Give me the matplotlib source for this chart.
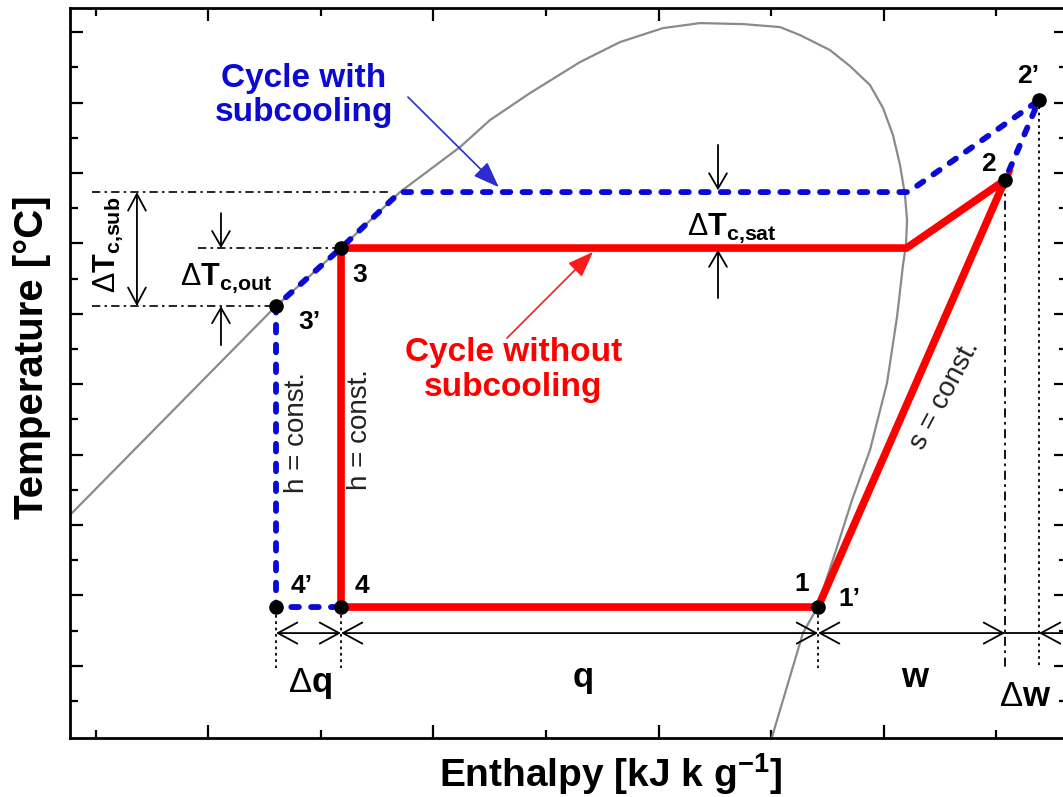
import numpy as np
import matplotlib
matplotlib.use("Agg")
import matplotlib.pyplot as plt

plt.rcParams["font.family"] = ["Liberation Sans", "DejaVu Sans"]
plt.rcParams["mathtext.fontset"] = "custom"
plt.rcParams["mathtext.rm"] = "Liberation Sans"
plt.rcParams["mathtext.bf"] = "Liberation Sans:bold"
plt.rcParams["mathtext.it"] = "Liberation Sans:italic"

# ---- saturation dome (enthalpy, temperature; arbitrary units) ----
dome_h = [-0.231, 1.600, 2.178, 2.702, 3.236, 3.502, 3.858, 4.302, 4.658, 5.040,
          5.369, 5.751, 6.080, 6.258, 6.524, 6.702, 6.880, 6.996, 7.084, 7.147,
          7.191, 7.209, 7.200, 7.173, 7.120, 7.031, 6.880, 6.720, 6.587, 6.409,
          6.284, 6.009]
dome_T = [5.284, 11.222, 12.869, 14.460, 15.739, 16.506, 17.273, 18.153, 18.722, 19.119,
          19.261, 19.233, 19.148, 18.920, 18.494, 18.040, 17.500, 16.847, 16.080, 15.227,
          14.375, 13.665, 12.955, 12.386, 10.909, 9.034, 7.131, 5.710, 4.375, 2.642,
          1.932, -1.023]

# ---- cycle state points ----
T_evap = 2.67       # evaporation temperature
T_cond = 12.87      # condensation temperature, no subcooling
T_cond_sub = 14.46  # condensation temperature, with subcooling
T_3p = 11.22        # condenser outlet temperature, with subcooling
T_2 = 14.80
T_2p = 17.07

h_1 = 6.418
h_2 = 8.080
h_2p = 8.382
h_3 = 2.178
h_3p = 1.600
h_knee_red = 7.205
h_knee_blue = 7.22
h_knee_sub = 2.702

# cycle without subcooling: 4 -> 3 -> condenser -> 2 -> 1 -> 4
red_h = [h_3, h_3, h_knee_red, h_2, h_1, h_3]
red_T = [T_evap, T_cond, T_cond, T_2, T_evap, T_evap]

# cycle with subcooling: 1' -> 2 -> 2' -> condenser -> 3 -> 3' -> 4' -> 1'
blue_h = [h_1, h_2, h_2p, h_knee_blue, h_knee_sub, h_3, h_3p, h_3p, h_1]
blue_T = [T_evap, T_2, T_2p, T_cond_sub, T_cond_sub, T_cond, T_3p, T_evap, T_evap]

point_h = [h_3, h_3p, h_3p, h_3, h_1, h_2, h_2p]
point_T = [T_cond, T_3p, T_evap, T_evap, T_evap, T_2, T_2p]

fig = plt.figure(figsize=(10.63, 7.97), dpi=100)
ax = fig.add_axes([70 / 1063, 59 / 797, 997 / 1063, 730 / 797])

# axes frame and ticks (ticks first, limits afterwards)
for sp in ax.spines.values():
    sp.set_linewidth(2.0)
ax.set_xticks(np.arange(1, 9, 2))
ax.set_xticks(np.arange(0, 9, 2), minor=True)
ax.set_yticks(np.arange(1, 20, 2))
ax.set_yticks(np.arange(0, 20, 2), minor=True)
ax.set_xlim(-0.231, 8.631)
ax.set_ylim(-1.051, 19.69)
ax.tick_params(which="both", direction="in", top=True, right=True,
               labelbottom=False, labelleft=False, width=1.6)
ax.tick_params(which="major", length=9.5)
ax.tick_params(which="minor", length=6)

# dome
ax.plot(dome_h, dome_T, color="#8a8a8a", lw=1.6, zorder=2)

# cycles
ax.plot(blue_h, blue_T, color="#0a0ad8", lw=4.2, linestyle=(0, (1.3, 2.1)),
        dash_capstyle="round", solid_joinstyle="round", zorder=3)
ax.plot(red_h, red_T, color="#ff0000", lw=5.5, solid_joinstyle="miter",
        solid_capstyle="butt", zorder=4)
ax.plot(point_h, point_T, "o", color="black", ms=9.5, zorder=6)

dashdot = (0, (5, 2.5, 1.5, 2.5))
dotted = (0, (1.5, 2.0))

# helper lines
ax.plot([-0.036, 2.62], [T_cond_sub, T_cond_sub], color="black", lw=1.2, ls=dashdot, zorder=2)
ax.plot([0.907, h_3], [T_cond, T_cond], color="black", lw=1.2, ls=dashdot, zorder=2)
ax.plot([-0.036, h_3p], [T_3p, T_3p], color="black", lw=1.2, ls=dashdot, zorder=2)

y_arr = 1.93
for hx in (h_3p, h_3, h_1):
    ax.plot([hx, hx], [2.44, 0.94], color="black", lw=1.3, ls=dotted, zorder=2)
ax.plot([h_2, h_2], [T_2, 0.91], color="black", lw=1.3, ls=dashdot, zorder=2)
ax.plot([h_2p, h_2p], [T_2p, 0.94], color="black", lw=1.3, ls=dotted, zorder=2)


def arrow(x0, y0, x1, y1, style, lw=1.3, color="black", ms=20):
    ax.annotate("", xy=(x1, y1), xytext=(x0, y0),
                arrowprops=dict(arrowstyle=style, lw=lw, color=color,
                                shrinkA=0, shrinkB=0, mutation_scale=ms),
                annotation_clip=False, zorder=5)


hstyle = "<->,head_length=0.7,head_width=0.38"
arrow(h_3p, y_arr, h_3, y_arr, hstyle)
arrow(h_3, y_arr, h_1, y_arr, hstyle)
arrow(h_1, y_arr, h_2, y_arr, hstyle)
ax.plot([h_2, h_2p], [y_arr, y_arr], color="black", lw=1.3, zorder=5)
arrow(8.68, y_arr, h_2p, y_arr, "->,head_length=0.7,head_width=0.38")

# temperature difference markers
vstyle = "<->,head_length=0.6,head_width=0.32"
arrow(0.364, T_cond_sub, 0.364, T_3p, vstyle)
one = "->,head_length=0.55,head_width=0.32"
arrow(1.111, 13.86, 1.111, T_cond, one)
arrow(1.111, 10.11, 1.111, T_3p, one)
arrow(5.529, 15.80, 5.529, T_cond_sub + 0.05, one)
arrow(5.529, 11.45, 5.529, T_cond - 0.05, one)

# callouts
ax.annotate("", xy=(3.58, 14.60), xytext=(2.773, 17.16),
            arrowprops=dict(arrowstyle="-|>,head_length=0.8,head_width=0.3",
                            lw=1.2, color="#2b2bd0", shrinkA=0, shrinkB=0,
                            mutation_scale=20), zorder=5)
ax.annotate("", xy=(4.418, 12.76), xytext=(3.653, 10.31),
            arrowprops=dict(arrowstyle="-|>,head_length=0.8,head_width=0.3",
                            lw=1.2, color="#ff1a1a", shrinkA=0, shrinkB=0,
                            mutation_scale=20), zorder=5)

ax.text(1.85, 17.2, "Cycle with\nsubcooling", color="#0a0ad0", fontsize=24,
        fontweight="bold", ha="center", va="center", linespacing=1.15)
ax.text(3.71, 9.4, "Cycle without\nsubcooling", color="#ff0000", fontsize=24,
        fontweight="bold", ha="center", va="center", linespacing=1.15)

# state labels
lbl = dict(fontsize=19, fontweight="bold", ha="center", va="center", zorder=7)
ax.text(2.347, 12.10, "3", **lbl)
ax.text(1.893, 10.77, "3\u2019", **lbl)
ax.text(1.831, 3.27, "4\u2019", **lbl)
ax.text(2.364, 3.27, "4", **lbl)
ax.text(6.276, 3.32, "1", **lbl)
ax.text(6.693, 2.90, "1\u2019", **lbl)
ax.text(7.929, 15.26, "2", **lbl)
ax.text(8.284, 17.76, "2\u2019", **lbl)

# difference labels
ax.text(0.107, 12.95, r"$\Delta\mathbf{T}_{\mathbf{c{,}sub}}$", fontsize=22,
        rotation=90, ha="center", va="center")
ax.text(1.156, 12.02, r"$\Delta\mathbf{T}_{\mathbf{c{,}out}}$", fontsize=22,
        ha="center", va="center")
ax.text(5.653, 13.44, r"$\Delta\mathbf{T}_{\mathbf{c{,}sat}}$", fontsize=22,
        ha="center", va="center")

ax.text(1.902, 0.256, r"$\Delta\mathbf{q}$", fontsize=25, ha="center", va="baseline")
ax.text(4.329, 0.398, "q", fontsize=25, fontweight="bold", ha="center", va="baseline")
ax.text(7.28, 0.398, "w", fontsize=25, fontweight="bold", ha="center", va="baseline")
ax.text(8.258, -0.142, r"$\Delta\mathbf{w}$", fontsize=25, ha="center", va="baseline")

# process annotations
ax.text(1.787, 7.64, "h = const.", fontsize=20, color="#222222", rotation=90,
        ha="center", va="center")
ax.text(2.347, 7.70, "h = const.", fontsize=20, color="#222222", rotation=90,
        ha="center", va="center")
ax.text(7.547, 8.69, "s = const.", fontsize=20, color="#222222", rotation=62,
        ha="center", va="center", rotation_mode="anchor")

# axis titles
fig.text(611 / 1063, 1 - 787 / 797, r"Enthalpy [kJ k g$^{\mathbf{-1}}$]",
         fontsize=28, fontweight="bold", ha="center", va="baseline")
fig.text(32 / 1063, 1 - 357 / 797, "Temperature [\u00b0C]", fontsize=29,
         fontweight="bold", rotation=90, ha="center", va="center")

fig.savefig("out.png", dpi=100)
